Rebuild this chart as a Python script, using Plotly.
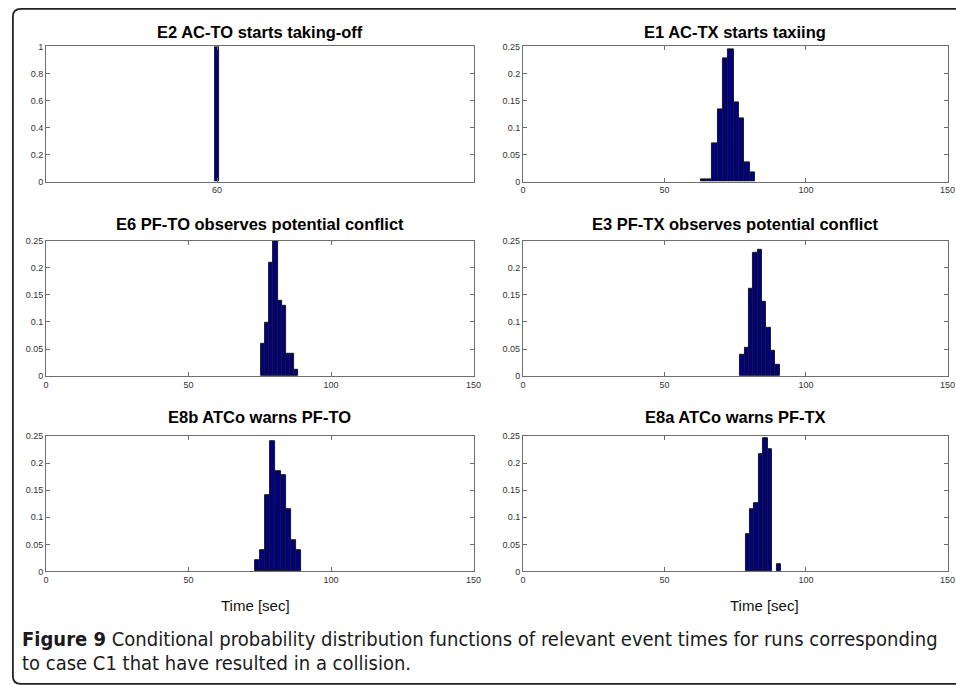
import numpy as np
import plotly.graph_objects as go

# ---------------- data ----------------
titles = [
    "E2 AC-TO starts taking-off",
    "E1 AC-TX starts taxiing",
    "E6 PF-TO observes potential conflict",
    "E3 PF-TX observes potential conflict",
    "E8b ATCo warns PF-TO",
    "E8a ATCo warns PF-TX",
]

e2_t = [60.0]
e2_p = [1.0]

e1_t = [64.0, 65.9, 67.8, 69.7, 71.6, 73.5, 75.4, 77.3, 79.2, 81.1]
e1_p = [0.005, 0.005, 0.070, 0.134, 0.228, 0.245, 0.146, 0.117, 0.035, 0.018]

e6_t = [76.2, 77.65, 79.1, 80.55, 82.0, 83.45, 84.9, 86.35, 87.8]
e6_p = [0.059, 0.099, 0.210, 0.250, 0.140, 0.129, 0.042, 0.042, 0.012]

e3_t = [77.5, 79.05, 80.6, 82.15, 83.7, 85.25, 86.8, 88.35, 89.9]
e3_p = [0.040, 0.052, 0.161, 0.227, 0.233, 0.137, 0.089, 0.046, 0.020]

e8b_t = [74.3, 76.08, 77.86, 79.64, 81.42, 83.2, 84.98, 86.76, 88.54]
e8b_p = [0.020, 0.039, 0.140, 0.241, 0.185, 0.178, 0.115, 0.058, 0.039]

e8a_t = [79.4, 80.97, 82.54, 84.11, 85.68, 87.25, 90.39]
e8a_p = [0.069, 0.115, 0.126, 0.216, 0.247, 0.226, 0.013]

x_ticks_first = [60]
x_ticks = [0, 50, 100, 150]
y_ticks_first = [0, 0.2, 0.4, 0.6, 0.8, 1]
y_ticks = [0, 0.05, 0.1, 0.15, 0.2, 0.25]

x_label = "Time [sec]"
caption_line1_bold = "Figure 9"
caption_line1 = " Conditional probability distribution functions of relevant event times for runs corresponding"
caption_line2 = "to case C1 that have resulted in a collision."

series = [(e2_t, e2_p), (e1_t, e1_p), (e6_t, e6_p), (e3_t, e3_p), (e8b_t, e8b_p), (e8a_t, e8a_p)]

# ---------------- layout geometry ----------------
W, H = 956, 685
def px(x):
    return min(x / W, 1.0)
def py(y):
    return 1 - y / H

col_dom = [[px(43.6), px(476.0)], [px(526.0), px(955.5)]]
row_dom = [[py(179.3), py(42.0)], [py(376.6), py(239.3)], [py(574.8), py(437.6)]]
title_y = [27, 222, 418]

BAR_FILL = "#000080"
BAR_EDGE = "#1a1a1a"
AX_COL = "#6e6e6e"
TXT = "#333333"
FONT = "Liberation Sans, Arial, sans-serif"
CAP_FONT = "DejaVu Sans Condensed, Liberation Sans Narrow, Arial Narrow, sans-serif"

fig = go.Figure()
layout = dict(
    width=W, height=H, margin=dict(l=0, r=0, t=0, b=0),
    paper_bgcolor="white", plot_bgcolor="white", showlegend=False,
    bargap=0,
)

annotations = []
for i, (t, p) in enumerate(series):
    r, c = divmod(i, 2)
    n = i + 1
    xa = "x" if n == 1 else f"x{n}"
    ya = "y" if n == 1 else f"y{n}"
    if len(t) > 1:
        w = float(np.median(np.diff(t)))
    else:
        w = 1.3
    fig.add_trace(go.Bar(
        x=t, y=p, width=w, xaxis=xa, yaxis=ya,
        marker=dict(color=BAR_FILL, line=dict(color=BAR_EDGE, width=1)),
        hoverinfo="skip",
    ))
    ax_common = dict(
        showgrid=False, zeroline=False, showline=True, linecolor=AX_COL, linewidth=1,
        mirror="ticks", ticks="inside", ticklen=4, tickcolor=AX_COL, tickwidth=1,
        tickfont=dict(family=FONT, size=9, color=TXT),
    )
    xkey = "xaxis" if n == 1 else f"xaxis{n}"
    ykey = "yaxis" if n == 1 else f"yaxis{n}"
    layout[xkey] = dict(
        ax_common, domain=col_dom[c], anchor=ya, range=[0, 150],
        tickmode="array", tickvals=x_ticks_first if i == 0 else x_ticks,
    )
    layout[ykey] = dict(
        ax_common, domain=row_dom[r], anchor=xa,
        range=[0, 1] if i == 0 else [0, 0.25],
        tickmode="array", tickvals=y_ticks_first if i == 0 else y_ticks,
    )
    annotations.append(dict(
        text=f"<b>{titles[i]}</b>", xref="paper", yref="paper",
        x=(col_dom[c][0] + col_dom[c][1]) / 2, y=py(title_y[r]),
        xanchor="center", yanchor="middle", showarrow=False,
        font=dict(family=FONT, size=16.5, color="#000000"),
    ))

for xc in [255, 770]:
    annotations.append(dict(
        text=x_label, xref="paper", yref="paper", x=px(xc), y=py(609.5),
        xanchor="center", yanchor="middle", showarrow=False,
        font=dict(family=FONT, size=15, color="#111111"),
    ))

annotations.append(dict(
    text=f"<b>{caption_line1_bold}</b>{caption_line1}", xref="paper", yref="paper",
    x=px(17), y=py(643), xanchor="left", yanchor="middle", align="left",
    showarrow=False, font=dict(family=CAP_FONT, size=20, color="#1a1a1a"),
))
annotations.append(dict(
    text=caption_line2, xref="paper", yref="paper",
    x=px(17), y=py(668), xanchor="left", yanchor="middle", align="left",
    showarrow=False, font=dict(family=CAP_FONT, size=20, color="#1a1a1a"),
))
layout["annotations"] = annotations

# rounded frame around the figure panel
rad_x, rad_y = 8 / W, 8 / H
x0, y0t, y0b, x1 = 10.0 / W, py(4), py(689), 970 / W
path = (f"M {x1},{y0t} L {x0 + rad_x},{y0t} Q {x0},{y0t} {x0},{y0t - rad_y} "
        f"L {x0},{y0b + rad_y} Q {x0},{y0b} {x0 + rad_x},{y0b} L {x1},{y0b}")
layout["shapes"] = [dict(type="path", path=path, xref="paper", yref="paper",
                         line=dict(color="#222222", width=1.8))]

fig.update_layout(**layout)
fig.write_html(
    "out.html",
    config={"displayModeBar": False},
    post_script="document.body.style.margin='0';document.body.style.overflow='hidden';"
                "document.documentElement.style.overflow='hidden';",
)
